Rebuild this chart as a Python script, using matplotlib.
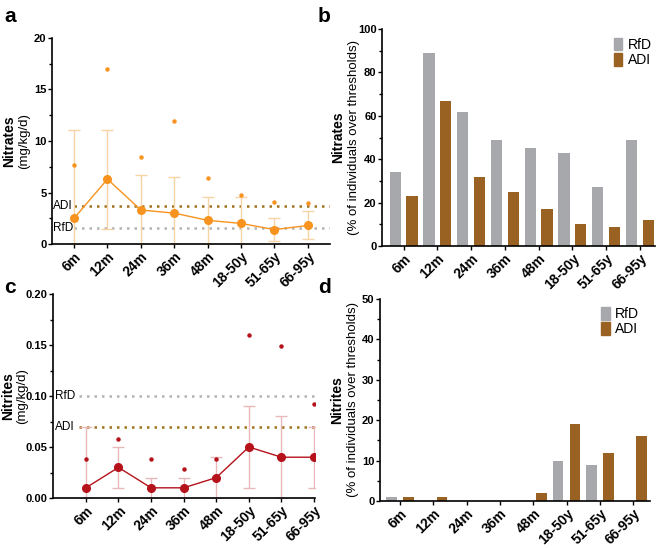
import matplotlib
matplotlib.use("Agg")
import matplotlib.pyplot as plt
from matplotlib.ticker import MultipleLocator
from matplotlib.patches import Patch
import numpy as np

plt.rcParams["font.family"] = ["Liberation Sans", "DejaVu Sans"]

groups = ["6m", "12m", "24m", "36m", "48m", "18-50y", "51-65y", "66-95y"]

# panel a - nitrates intake (mg/kg/d)
no3_mean = [2.5, 6.3, 3.3, 3.0, 2.3, 2.0, 1.4, 1.8]
no3_low = [0.0, 1.5, 0.0, 0.0, 0.0, 0.0, 0.3, 0.5]
no3_high = [11.1, 11.1, 6.7, 6.5, 4.6, 4.6, 2.5, 3.2]
no3_p95 = [7.7, 17.0, 8.4, 11.9, 6.4, 4.8, 4.1, 4.0]
no3_adi = 3.7
no3_rfd = 1.6

# panel b - % over thresholds, nitrates
no3_pct_rfd = [34, 89, 62, 49, 45, 43, 27, 49]
no3_pct_adi = [23, 67, 32, 25, 17, 10, 9, 12]

# panel c - nitrites intake (mg/kg/d)
no2_mean = [0.01, 0.03, 0.01, 0.01, 0.02, 0.05, 0.04, 0.04]
no2_low = [0.0, 0.01, 0.0, 0.0, 0.0, 0.01, 0.0, 0.01]
no2_high = [0.07, 0.05, 0.02, 0.02, 0.04, 0.09, 0.08, 0.07]
no2_p95 = [0.038, 0.058, 0.038, 0.028, 0.038, 0.160, 0.149, 0.092]
no2_adi = 0.07
no2_rfd = 0.10

# panel d - % over thresholds, nitrites
no2_pct_rfd = [1, 0, 0, 0, 0, 10, 9, 0]
no2_pct_adi = [1, 1, 0, 0, 2, 19, 12, 16]

GREY = "#a7a8ab"
BROWN = "#9a6222"
ADI_LINE = "#a0701e"
RFD_LINE = "#b3b3b3"

fig = plt.figure(figsize=(6.61, 5.48), dpi=100)
ax_a = fig.add_axes([0.0787, 0.5547, 0.4203, 0.376])
ax_b = fig.add_axes([0.578, 0.551, 0.413, 0.396])
ax_c = fig.add_axes([0.0806, 0.0912, 0.3960, 0.3723])
ax_d = fig.add_axes([0.575, 0.0858, 0.408, 0.3686])

x = np.arange(len(groups))


def style(ax, ymax, major, minor, fmt=None):
    for s in ["top", "right"]:
        ax.spines[s].set_visible(False)
    for s in ["left", "bottom"]:
        ax.spines[s].set_linewidth(1.2)
    ax.set_ylim(0, ymax)
    ax.yaxis.set_major_locator(MultipleLocator(major))
    ax.yaxis.set_minor_locator(MultipleLocator(minor))
    if fmt:
        ax.yaxis.set_major_formatter(fmt)
    ax.tick_params(axis="y", which="major", length=3, width=1, labelsize=8, pad=1)
    ax.tick_params(axis="y", which="minor", length=2, width=1)
    ax.tick_params(axis="x", length=3, width=1, labelsize=10, pad=1)
    ax.set_xticks(x)
    ax.set_xticklabels(groups, rotation=45, ha="right", rotation_mode="anchor")
    for lab in ax.get_xticklabels() + ax.get_yticklabels():
        lab.set_fontweight("bold")


def intake(ax, mean, low, high, p95, color, ecolor, adi, rfd, x0, x1, tx):
    mean = np.array(mean)
    yerr = [mean - np.array(low), np.array(high) - mean]
    ax.errorbar(x, mean, yerr=yerr, fmt="none", ecolor=ecolor, elinewidth=1,
                capsize=4, capthick=1, zorder=2)
    ax.plot(x, mean, "-", color=color, lw=1, marker="o", ms=5.5, zorder=3)
    ax.plot(x, p95, "o", color=color, ms=2.2, zorder=3)
    ax.hlines(adi, x0, x1, colors=ADI_LINE, linestyles=(0, (1, 2)), lw=1.8, zorder=1)
    ax.hlines(rfd, x0, x1, colors=RFD_LINE, linestyles=(0, (1, 2)), lw=1.8, zorder=1)
    ax.text(tx, adi, "ADI", fontsize=8.5, va="center", ha="left")
    ax.text(tx, rfd, "RfD", fontsize=8.5, va="center", ha="left")


def pct(ax, rfd_vals, adi_vals, off, w):
    ax.bar(x - off, rfd_vals, w, color=GREY, label="RfD")
    ax.bar(x + off, adi_vals, w, color=BROWN, label="ADI")


def ylabel(ax, title, unit, xt, xu):
    ax.text(xt, 0.5, title, rotation=90, transform=ax.transAxes, ha="center",
            va="center", fontsize=10, fontweight="bold")
    ax.text(xu, 0.5, unit, rotation=90, transform=ax.transAxes, ha="center",
            va="center", fontsize=9.5)


# a
intake(ax_a, no3_mean, no3_low, no3_high, no3_p95, "#f7931e", "#f8d3a6",
       no3_adi, no3_rfd, 0.0, 7.66, -0.63)
ax_a.set_xlim(-0.66, 7.66)
style(ax_a, 20, 5, 2.5)
ylabel(ax_a, "Nitrates", "(mg/kg/d)", -0.155, -0.10)

# b
pct(ax_b, no3_pct_rfd, no3_pct_adi, 0.25, 0.335)
ax_b.set_xlim(-0.64, 7.45)
style(ax_b, 100, 20, 10)
ylabel(ax_b, "Nitrates", "(% of individuals over thresholds)", -0.162, -0.102)

# c
intake(ax_c, no2_mean, no2_low, no2_high, no2_p95, "#b5121b", "#e8b8bb",
       no2_adi, no2_rfd, -0.2, 7.05, -0.96)
ax_c.set_xlim(-1.0, 7.03)
style(ax_c, 0.20, 0.05, 0.025, fmt=lambda v, p: f"{v:.2f}")
ylabel(ax_c, "Nitrites", "(mg/kg/d)", -0.172, -0.12)

# d
pct(ax_d, no2_pct_rfd, no2_pct_adi, 0.255, 0.32)
ax_d.set_xlim(-0.6, 7.5)
style(ax_d, 50, 10, 5)
ylabel(ax_d, "Nitrites", "(% of individuals over thresholds)", -0.16, -0.10)

for ax, loc in [(ax_b, (0.85, 0.96)), (ax_d, (0.82, 0.96))]:
    handles = [Patch(color=GREY, label="RfD"), Patch(color=BROWN, label="ADI")]
    ax.legend(handles=handles, loc="upper left", bbox_to_anchor=loc, frameon=False,
              fontsize=10, handlelength=0.6, handleheight=1.0, handletextpad=0.4,
              labelspacing=0.1, borderpad=0, borderaxespad=0)

for lab, (px, py) in zip("abcd", [(4, 22), (318, 22), (4, 293), (318, 293)]):
    fig.text(px / 661, 1 - py / 548, lab, fontsize=15, fontweight="bold")

fig.savefig("out.png", dpi=100)
